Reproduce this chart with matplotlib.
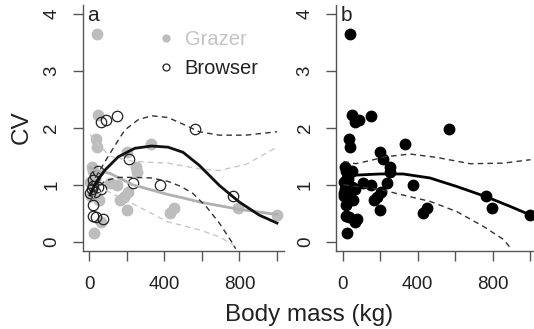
import numpy as np
import matplotlib
matplotlib.use("Agg")
import matplotlib.pyplot as plt
from matplotlib.lines import Line2D

plt.rcParams["font.family"] = ["Liberation Sans", "DejaVu Sans"]

# grazers (grey filled) and browsers (open) : body mass (kg), CV
grazer_mass = [42, 50, 35, 40, 330, 200, 250, 255, 110, 150, 205, 185, 165, 200,
               430, 450, 795, 1000, 25, 55, 15, 20, 5, 65, 10, 30]
grazer_cv = [3.65, 2.23, 1.80, 1.67, 1.71, 1.57, 1.32, 1.22, 1.03, 1.00, 0.87, 0.78,
             0.73, 0.56, 0.51, 0.59, 0.60, 0.47, 0.16, 0.74, 1.32, 1.25, 1.05, 0.35,
             0.80, 1.10]
browser_mass = [65, 90, 150, 565, 215, 235, 375, 765, 50, 30, 20, 20, 50, 65, 15,
                30, 5, 20, 20, 35, 75]
browser_cv = [2.10, 2.13, 2.21, 1.97, 1.46, 1.03, 1.00, 0.80, 1.25, 1.15, 1.08, 0.98,
              0.96, 0.92, 0.92, 0.87, 0.85, 0.65, 0.46, 0.43, 0.40]

# fitted curves
brw_fit_x = [5, 40, 85, 155, 243, 332, 420, 500, 587, 693, 799, 905, 1000]
brw_fit_y = [0.82, 1.06, 1.26, 1.49, 1.64, 1.68, 1.66, 1.57, 1.34, 0.99, 0.70, 0.47, 0.33]
brw_hi_x = [5, 40, 111, 190, 261, 332, 420, 508, 587, 693, 834, 1000]
brw_hi_y = [0.98, 1.16, 1.55, 1.96, 2.14, 2.21, 2.18, 2.05, 1.93, 1.87, 1.87, 1.93]
brw_lo_x = [5, 40, 85, 155, 243, 332, 420, 490, 552, 623, 693, 763, 780]
brw_lo_y = [0.70, 0.92, 1.07, 1.13, 1.13, 1.12, 1.06, 0.97, 0.85, 0.62, 0.33, -0.02, -0.12]

grz_fit_x = [5, 23, 111, 233, 420, 500, 600, 700, 800, 1000]
grz_fit_y = [1.30, 1.26, 1.20, 1.00, 0.83, 0.77, 0.69, 0.63, 0.57, 0.48]
grz_hi_x = [5, 23, 111, 233, 420, 587, 693, 836, 1000]
grz_hi_y = [1.88, 1.80, 1.50, 1.41, 1.38, 1.28, 1.25, 1.36, 1.66]
grz_lo_x = [5, 23, 85, 243, 420, 587, 693, 763, 785]
grz_lo_y = [0.72, 0.78, 0.91, 0.65, 0.35, 0.21, 0.09, -0.04, -0.12]

all_fit_x = [5, 73, 198, 322, 465, 608, 765, 893, 1000]
all_fit_y = [1.14, 1.17, 1.19, 1.19, 1.12, 0.97, 0.79, 0.62, 0.47]
all_hi_x = [5, 70, 140, 225, 358, 501, 679, 857, 1000]
all_hi_y = [1.41, 1.37, 1.42, 1.49, 1.54, 1.48, 1.37, 1.38, 1.44]
all_lo_x = [5, 73, 198, 322, 465, 608, 750, 857, 897]
all_lo_y = [1.00, 0.97, 0.92, 0.82, 0.71, 0.53, 0.27, 0.04, -0.12]

xticks = [0, 200, 400, 600, 800, 1000]
xticklabels = ["0", "", "400", "", "800", ""]
yticks = [0, 1, 2, 3, 4]

W, H = 534, 329
fig = plt.figure(figsize=(W / 100, H / 100), dpi=100)

axis_col = "#555555"
grey_pt = "#bdbdbd"
grey_line = "#b0b0b0"
grey_dash = "#c8c8c8"


def style_axes(ax):
    ax.set_xlim(-35, 1040)
    ax.set_ylim(-0.16, 4.16)
    for s in ["top", "right"]:
        ax.spines[s].set_visible(False)
    for s in ["left", "bottom"]:
        ax.spines[s].set_color(axis_col)
        ax.spines[s].set_linewidth(1.0)
    ax.set_xticks(xticks)
    ax.set_xticklabels(xticklabels)
    ax.set_yticks(yticks)
    ax.set_yticklabels([str(v) for v in yticks], rotation=90, va="center")
    ax.tick_params(axis="both", length=7, width=1.0, color=axis_col,
                   labelsize=13.5, labelcolor="#222222")
    ax.tick_params(axis="x", pad=11)
    ax.tick_params(axis="y", pad=9)
    ax.patch.set_visible(False)


# panel a
axa = fig.add_axes([82.5 / W, 1 - 251 / H, 202 / W, 246.5 / H])
style_axes(axa)
axa.plot(grazer_mass, grazer_cv, "o", color=grey_pt, mec=grey_pt, ms=7.5)
axa.plot(browser_mass, browser_cv, "o", mfc="none", mec="#222222", mew=0.9, ms=7.5)
axa.plot(grz_fit_x, grz_fit_y, color=grey_line, lw=2.0)
axa.plot(grz_hi_x, grz_hi_y, color=grey_dash, lw=1.0, ls=(0, (4, 3)))
axa.plot(grz_lo_x, grz_lo_y, color=grey_dash, lw=1.0, ls=(0, (4, 3)))
axa.plot(brw_fit_x, brw_fit_y, color="#111111", lw=2.0)
axa.plot(brw_hi_x, brw_hi_y, color="#333333", lw=1.0, ls=(0, (4, 3)))
axa.plot(brw_lo_x, brw_lo_y, color="#333333", lw=1.0, ls=(0, (4, 3)))
axa.text(0.025, 0.933, "a", transform=axa.transAxes, fontsize=15, color="#222222",
         va="baseline", ha="left")

handles = [Line2D([], [], ls="none", marker="o", color=grey_pt, ms=5),
           Line2D([], [], ls="none", marker="o", mfc="none", mec="#222222", mew=0.9, ms=5)]
axa.legend(handles, ["Grazer", "Browser"], loc="upper left",
           bbox_to_anchor=(0.296, 0.955), frameon=False, fontsize=14.5,
           labelcolor=["#c4c4c4", "#222222"], handletextpad=0.4,
           handlelength=1.0, labelspacing=0.5, borderpad=0.2)

# panel b
axb = fig.add_axes([336 / W, 1 - 251 / H, 202 / W, 246.5 / H])
style_axes(axb)
axb.plot(grazer_mass + browser_mass, grazer_cv + browser_cv, "o", color="black", ms=7.5)
axb.plot(all_fit_x, all_fit_y, color="black", lw=2.0)
axb.plot(all_hi_x, all_hi_y, color="#333333", lw=1.0, ls=(0, (4, 3)))
axb.plot(all_lo_x, all_lo_y, color="#333333", lw=1.0, ls=(0, (4, 3)))
axb.text(0.025, 0.933, "b", transform=axb.transAxes, fontsize=15, color="#222222",
         va="baseline", ha="left")

fig.text(21.5 / W, 1 - 127 / H, "CV", rotation=90, fontsize=17.5, color="#222222",
         ha="center", va="center")
fig.text(309.5 / W, 1 - 321.5 / H, "Body mass (kg)", fontsize=17.5, color="#222222",
         ha="center", va="baseline")

fig.savefig("out.png", dpi=100)
